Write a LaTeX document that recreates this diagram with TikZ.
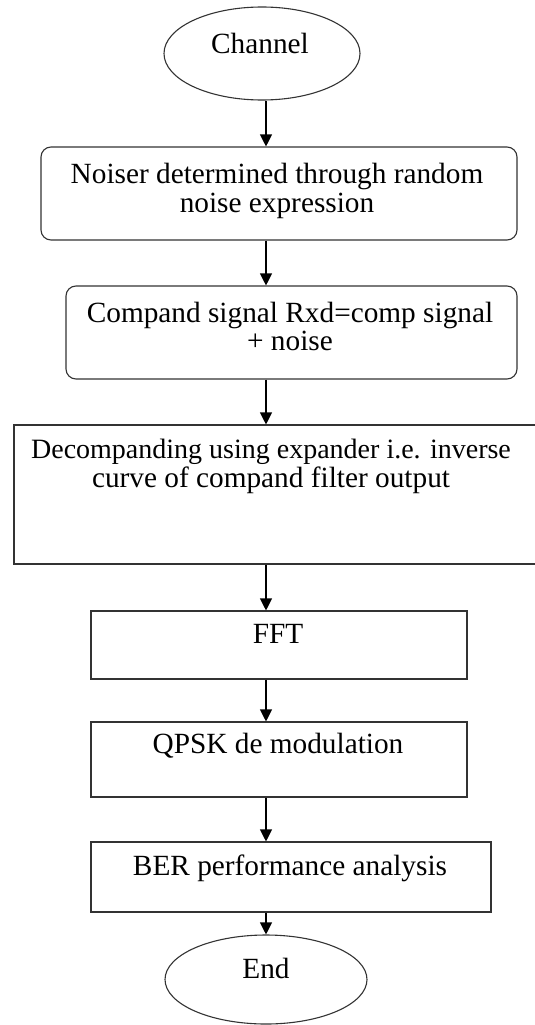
\documentclass[tikz,border=0pt]{standalone}
\usepackage{fontspec}
\setmainfont{Liberation Serif}
\usetikzlibrary{shapes.geometric,arrows.meta}
\begin{document}
\begin{tikzpicture}[x=1pt,y=-1pt,
  boxr/.style 2 args={draw=black!80, line width=1.1pt, rounded corners=10pt, inner sep=0pt,
    minimum width=#1, minimum height=#2},
  boxs/.style 2 args={draw=black!80, line width=1.1pt, inner sep=0pt,
    minimum width=#1, minimum height=#2},
  oval/.style 2 args={draw=black!80, line width=1.1pt, ellipse, inner sep=0pt,
    minimum width=#1, minimum height=#2},
  txt/.style={anchor=base, inner sep=0pt, font=\fontsize{29.3}{31}\selectfont},
  txtn/.style={anchor=base, inner sep=0pt, font=\fontsize{28}{31}\selectfont},
  flow/.style={draw=black, line width=1.1pt, -{Triangle[width=12pt,length=12pt]}}
]
\clip (0,0) rectangle (535,1025);
\fill[white] (0,0) rectangle (535,1025);

% shapes
\node[oval={196pt}{93pt}] (ch) at (262,53.5) {};
\node[boxr={476pt}{93pt}] (b1) at (279,193.5) {};
\node[boxr={451pt}{93pt}] (b2) at (291.5,332.5) {};
\node[boxs={526pt}{139pt}] (b3) at (277,494.5) {};
\node[boxs={376pt}{68pt}] (b4) at (279,645) {};
\node[boxs={376pt}{75pt}] (b5) at (279,759.5) {};
\node[boxs={400pt}{70pt}] (b6) at (291,877) {};
\node[oval={202pt}{89pt}] (en) at (266,979.5) {};

% texts
\node[txt] (tch) at (260,53) {Channel};
\node[txt] (t1a) at (277,183) {Noiser determined through random};
\node[txt] (t1b) at (277,212) {noise expression};
\node[txt] (t2a) at (290,322) {Compand signal Rxd=comp signal};
\node[txt] (t2b) at (290,350) {+ noise};
\node[txtn] (t3a) at (271,458) {Decompanding using expander i.e. inverse};
\node[txt] (t3b) at (271,487) {curve of compand filter output};
\node[txt] (t4) at (278,643) {FFT};
\node[txt] (t5) at (278,753) {QPSK de modulation};
\node[txt] (t6) at (290,875) {BER performance analysis};
\node[txt] (ten) at (266,978) {End};

% spine
\coordinate (sp) at (266,0);
\draw[flow] (sp |- ch.south) -- (sp |- b1.north);
\draw[flow] (sp |- b1.south) -- (sp |- b2.north);
\draw[flow] (sp |- b2.south) -- (sp |- b3.north);
\draw[flow] (sp |- b3.south) -- (sp |- b4.north);
\draw[flow] (sp |- b4.south) -- (sp |- b5.north);
\draw[flow] (sp |- b5.south) -- (sp |- b6.north);
\draw[flow] (sp |- b6.south) -- (en.north);
\end{tikzpicture}
\end{document}
